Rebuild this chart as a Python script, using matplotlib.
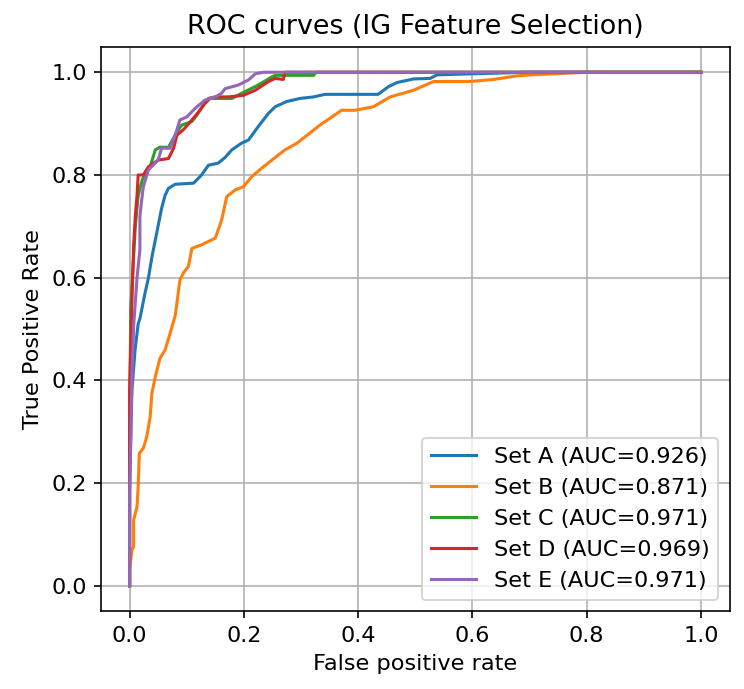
import matplotlib
matplotlib.use("Agg")
import matplotlib.pyplot as plt

# ROC points (false positive rate, true positive rate)
fpr_a = [0.0, 0.0, 0.004, 0.0096, 0.015, 0.018, 0.027, 0.033, 0.039, 0.048, 0.056, 0.062,
         0.068, 0.080, 0.112, 0.126, 0.138, 0.155, 0.167, 0.179, 0.196, 0.208, 0.225,
         0.243, 0.255, 0.275, 0.298, 0.322, 0.342, 0.435, 0.453, 0.468, 0.497, 0.526,
         0.538, 0.60, 0.70, 1.0]
tpr_a = [0.0, 0.20, 0.38, 0.46, 0.51, 0.52, 0.57, 0.60, 0.64, 0.69, 0.735, 0.76,
         0.774, 0.782, 0.784, 0.80, 0.819, 0.823, 0.834, 0.849, 0.862, 0.868, 0.894,
         0.92, 0.933, 0.943, 0.949, 0.952, 0.957, 0.957, 0.972, 0.980, 0.987, 0.988,
         0.995, 0.997, 1.0, 1.0]

fpr_b = [0.0, 0.0, 0.004, 0.007, 0.007, 0.013, 0.015, 0.017, 0.024, 0.030, 0.036, 0.039,
         0.045, 0.053, 0.062, 0.071, 0.080, 0.088, 0.094, 0.103, 0.109, 0.126, 0.150,
         0.161, 0.170, 0.185, 0.199, 0.214, 0.231, 0.249, 0.272, 0.293, 0.333, 0.371,
         0.395, 0.427, 0.456, 0.497, 0.532, 0.596, 0.637, 0.678, 0.706, 0.80, 1.0]
tpr_b = [0.0, 0.03, 0.07, 0.076, 0.128, 0.154, 0.193, 0.258, 0.268, 0.29, 0.329, 0.375,
         0.407, 0.443, 0.459, 0.492, 0.527, 0.595, 0.609, 0.622, 0.657, 0.664, 0.677,
         0.712, 0.758, 0.771, 0.777, 0.797, 0.813, 0.829, 0.849, 0.862, 0.897, 0.926,
         0.926, 0.933, 0.952, 0.965, 0.982, 0.982, 0.986, 0.993, 0.995, 1.0, 1.0]

fpr_c = [0.0, 0.0, 0.002, 0.006, 0.010, 0.015, 0.022, 0.030, 0.036, 0.045, 0.053, 0.068,
         0.083, 0.091, 0.109, 0.118, 0.129, 0.141, 0.179, 0.196, 0.225, 0.249, 0.255,
         0.27, 0.322, 0.326, 1.0]
tpr_c = [0.0, 0.30, 0.54, 0.62, 0.70, 0.76, 0.79, 0.81, 0.816, 0.849, 0.854, 0.854,
         0.884, 0.897, 0.904, 0.917, 0.936, 0.949, 0.949, 0.959, 0.975, 0.991, 0.994,
         0.994, 0.994, 1.0, 1.0]

fpr_d = [0.0, 0.0, 0.004, 0.007, 0.010, 0.013, 0.015, 0.024, 0.033, 0.050, 0.068, 0.077,
         0.083, 0.094, 0.109, 0.123, 0.138, 0.150, 0.173, 0.199, 0.220, 0.243, 0.255,
         0.269, 0.272, 1.0]
tpr_d = [0.0, 0.38, 0.55, 0.66, 0.72, 0.76, 0.80, 0.80, 0.816, 0.829, 0.832, 0.852,
         0.878, 0.888, 0.907, 0.926, 0.949, 0.952, 0.952, 0.955, 0.965, 0.982, 0.988,
         0.986, 1.0, 1.0]

fpr_e = [0.0, 0.0, 0.002, 0.004, 0.007, 0.013, 0.018, 0.018, 0.021, 0.024, 0.033, 0.050,
         0.056, 0.071, 0.080, 0.088, 0.100, 0.115, 0.132, 0.150, 0.161, 0.167, 0.190,
         0.208, 0.220, 0.234, 1.0]
tpr_e = [0.0, 0.18, 0.284, 0.407, 0.505, 0.60, 0.654, 0.719, 0.75, 0.777, 0.810, 0.829,
         0.852, 0.852, 0.878, 0.907, 0.913, 0.930, 0.946, 0.952, 0.959, 0.968, 0.975,
         0.985, 0.997, 1.0, 1.0]

labels = ['Set A (AUC=0.926)', 'Set B (AUC=0.871)', 'Set C (AUC=0.971)',
          'Set D (AUC=0.969)', 'Set E (AUC=0.971)']

plt.rcParams['font.size'] = 10.9

fig = plt.figure(figsize=(744 / 148, 689 / 148), dpi=148)
ax = fig.add_subplot(111)
fig.subplots_adjust(left=0.1358, right=0.9806, bottom=0.1125, top=0.9324)

curves = [(fpr_a, tpr_a), (fpr_b, tpr_b), (fpr_c, tpr_c), (fpr_d, tpr_d), (fpr_e, tpr_e)]
for (fx, ty), lab in zip(curves, labels):
    ax.plot(fx, ty, label=lab)

ax.set_xlabel('False positive rate')
ax.set_ylabel('True Positive Rate')
ax.set_title('ROC curves (IG Feature Selection)')
ax.grid(True)
ax.legend(loc='lower right')

fig.savefig('out.png', dpi=148)
